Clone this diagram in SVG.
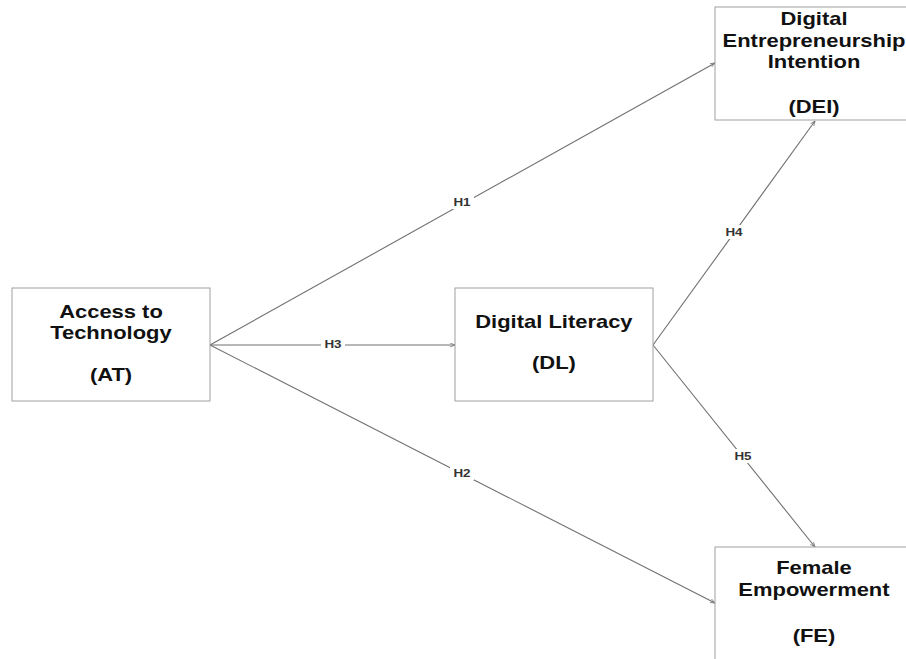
<svg xmlns="http://www.w3.org/2000/svg" width="906" height="659" viewBox="0 0 906 659">
<defs>
<style>
.box{fill:#fff;stroke:#a0a0a0;stroke-width:1}
.t{font-family:"Liberation Sans",Arial,sans-serif;font-weight:bold;font-size:18px;fill:#111;text-anchor:middle;transform-box:fill-box;transform-origin:center;transform:scaleX(1.22)}
.e{stroke:#707070;stroke-width:1.1;fill:none;marker-end:url(#ah)}
.lb{font-family:"Liberation Sans",Arial,sans-serif;font-weight:bold;font-size:11px;fill:#333;text-anchor:middle;transform-box:fill-box;transform-origin:center;transform:scaleX(1.22)}
.bg{fill:#fff}
</style>
<marker id="ah" viewBox="0 0 10 10" refX="10" refY="5" markerWidth="5" markerHeight="5" orient="auto" markerUnits="userSpaceOnUse">
<path d="M0,1 L10,5 L0,9" fill="none" stroke="#707070" stroke-width="1.5"/>
</marker>
</defs>
<rect width="906" height="659" fill="#fff"/>
<g id="connectors">
<line class="e" x1="210" y1="345" x2="715" y2="63"/>
<line class="e" x1="210" y1="345" x2="455" y2="345"/>
<line class="e" x1="210" y1="345" x2="715" y2="603"/>
<line class="e" x1="653" y1="345" x2="815" y2="121"/>
<line class="e" x1="653" y1="345" x2="815" y2="547"/>
<rect class="bg" x="450" y="195" width="24" height="14"/>
<text class="lb" x="462" y="206">H1</text>
<rect class="bg" x="450" y="466" width="24" height="14"/>
<text class="lb" x="462" y="477">H2</text>
<rect class="bg" x="321" y="338" width="24" height="12"/>
<text class="lb" x="333" y="348">H3</text>
<rect class="bg" x="722" y="225" width="24" height="14"/>
<text class="lb" x="734" y="236">H4</text>
<rect class="bg" x="731" y="449" width="24" height="14"/>
<text class="lb" x="743" y="460">H5</text>
</g>
<g id="AT">
<rect class="box" x="12" y="288" width="198" height="113"/>
<text class="t" x="111" y="318">Access to</text>
<text class="t" x="111" y="339">Technology</text>
<text class="t" x="111" y="381">(AT)</text>
</g>
<g id="DL">
<rect class="box" x="455" y="288" width="198" height="113"/>
<text class="t" x="554" y="328">Digital Literacy</text>
<text class="t" x="554" y="369">(DL)</text>
</g>
<g id="DEI">
<rect class="box" x="715" y="7" width="198" height="113"/>
<text class="t" x="814" y="25">Digital</text>
<text class="t" x="814" y="47">Entrepreneurship</text>
<text class="t" x="814" y="68">Intention</text>
<text class="t" x="814" y="113">(DEI)</text>
</g>
<g id="FE">
<rect class="box" x="715" y="547" width="198" height="113"/>
<text class="t" x="814" y="574">Female</text>
<text class="t" x="814" y="596">Empowerment</text>
<text class="t" x="814" y="642">(FE)</text>
</g>
</svg>
